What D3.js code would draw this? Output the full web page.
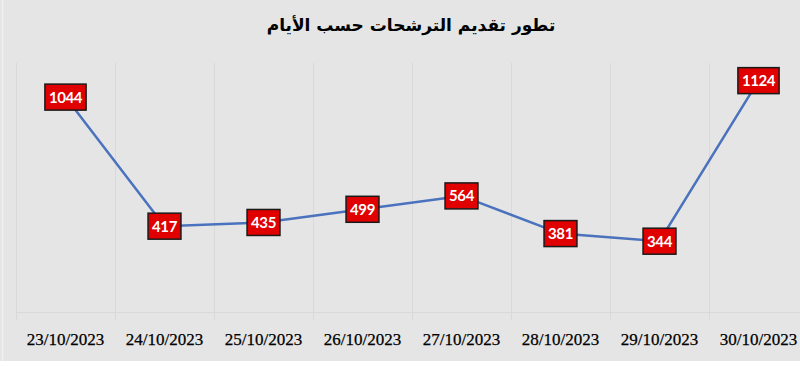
<!DOCTYPE html>
<html><head><meta charset="utf-8">
<script src="https://cdn.jsdelivr.net/npm/d3@7"></script>
<style>html,body{margin:0;padding:0;background:#fff;}svg{display:block;}</style>
</head><body>
<svg id="c" width="800" height="366"></svg>
<script>
const title = "تطور تقديم الترشحات حسب الأيام";
const categories = ["23/10/2023","24/10/2023","25/10/2023","26/10/2023","27/10/2023","28/10/2023","29/10/2023","30/10/2023"];
const values = [1044, 417, 435, 499, 564, 381, 344, 1124];
const yDomain = [0, 1200];

(function(){
const svg = d3.select("#c");
svg.append("rect").attr("x",0).attr("y",0).attr("width",800).attr("height",361).attr("fill","#e5e5e5");
svg.append("line").attr("x1",2.5).attr("x2",2.5).attr("y1",0).attr("y2",361).attr("stroke","#f0f0f0").attr("stroke-width",1.5);

const pLeft = 16, bandW = 99, pTop = 65, pBottom = 312;
const x = d3.scaleBand().domain(categories).range([pLeft, pLeft + bandW*categories.length]).paddingInner(0).paddingOuter(0);
const y = d3.scaleLinear().domain(yDomain).range([pBottom, pTop]);

const g = svg.append("g");
const bounds = categories.map(c => x(c)).concat([x(categories[categories.length-1]) + x.bandwidth()]);
g.selectAll("line.grid").data(bounds).join("line")
  .attr("x1", d=>d+0.5).attr("x2", d=>d+0.5).attr("y1", pTop-2).attr("y2", pBottom+8)
  .attr("stroke","#d9d9d9").attr("stroke-width",1);
svg.append("line").attr("x1",pLeft).attr("x2",812).attr("y1",pBottom+0.5).attr("y2",pBottom+0.5)
  .attr("stroke","#d9d9d9").attr("stroke-width",1);

const xAxis = d3.axisBottom(x).tickSize(0).tickPadding(0);
const ax = svg.append("g").attr("transform",`translate(0,${pBottom})`).call(xAxis);
ax.select(".domain").remove();
ax.selectAll("text").attr("y", 33).attr("dy", 0)
  .attr("font-family","Liberation Serif, serif").attr("font-size",17).attr("fill","#000")
  .attr("stroke","#000").attr("stroke-width",0.25);

const cx = c => x(c) + x.bandwidth()/2;
const line = d3.line().x((d,i)=>cx(categories[i])).y(d=>y(d));
svg.append("path").datum(values).attr("d", line).attr("fill","none")
  .attr("stroke","#4a72bd").attr("stroke-width",2.5);

const lg = svg.selectAll("g.lbl").data(values).join("g").attr("class","lbl")
  .attr("transform",(d,i)=>`translate(${cx(categories[i])},${y(d)})`);
lg.append("rect").attr("fill","#e00000").attr("stroke","#1a1a1a").attr("stroke-width",1.5);
const texts = lg.append("text").text(d=>d).attr("text-anchor","middle").attr("dy","0.37em")
  .attr("font-family","Lato, sans-serif").attr("font-weight",700).attr("font-size",15)
  .attr("letter-spacing",-0.4).attr("fill","#fff");
texts.each(function(){
  const w = this.getComputedTextLength();
  d3.select(this.parentNode).select("rect")
    .attr("x", -w/2-4).attr("width", w+8).attr("y",-13).attr("height",26);
});

svg.append("text").attr("x",411).attr("y",31).attr("text-anchor","middle")
  .attr("font-family","DejaVu Sans, sans-serif").attr("font-weight",700).attr("font-size",17)
  .attr("fill","#000").text(title);
})();
</script>
</body></html>
